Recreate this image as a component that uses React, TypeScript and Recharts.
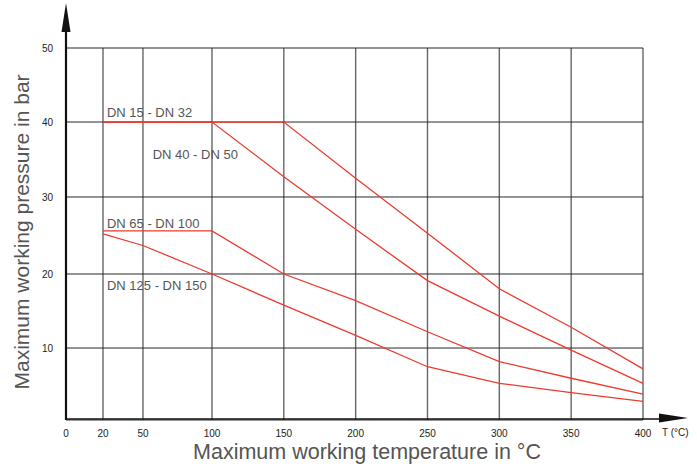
import { LineChart, Line, XAxis, YAxis, CartesianGrid, ReferenceDot } from "recharts";

// Pressure / temperature rating of the valve series.

const temps = [20, 50, 100, 150, 200, 250, 300, 350, 400];
const dn15to32 = [40, 40, 40, 40, 32.5, 25.3, 18, 12.8, 7.1];
const dn40to50 = [40, 40, 40, 32.7, 25.8, 19.1, 14.3, 9.7, 5.1];
const dn65to100 = [25.6, 25.6, 25.6, 20, 16.4, 12.2, 8.1, 5.8, 3.6];
const dn125to150 = [25.2, 23.7, 20, 15.8, 11.7, 7.4, 5.1, 3.8, 2.6];

const xTicks = [0, 20, 50, 100, 150, 200, 250, 300, 350, 400];
const yTicks = [10, 20, 30, 40, 50];

const seriesKeys = ["dn15", "dn40", "dn65", "dn125"];
const seriesNames = ["DN 15 - DN 32", "DN 40 - DN 50", "DN 65 - DN 100", "DN 125 - DN 150"];
// where each name sits, in chart units (temperature, bar)
const nameAtT = [23, 57, 23, 23];
const nameAtBar = [40.7, 35.1, 26, 17.8];

const data = temps.map((t, i) => ({
  t,
  dn15: dn15to32[i],
  dn40: dn40to50[i],
  dn65: dn65to100[i],
  dn125: dn125to150[i],
}));

const W = 697;
const H = 470;
const LEFT = 66;
const TOP = 48;
const RIGHT = 643;
const BOTTOM = 420;
const Y_AXIS_W = 40;
const X_AXIS_H = 30;

const RED = "#ec3a2f";
const TEXT = "#555";
const SANS = "'Liberation Sans', Arial, sans-serif";
const NARROW = "'Liberation Sans Narrow', 'Arial Narrow', 'Liberation Sans', sans-serif";

// The drawing's axes are not quite even, so each axis is calibrated on its
// own gridlines: knot values and where they fall along the axis (0..1).
const tempKnots = [0, 20, 50, 100, 400];
const tempKnotFrac = [0, 0.0641, 0.1334, 0.253, 1];
const barKnots = [0, 10, 20, 30, 40, 50];
const barKnotFrac = [0, 0.1935, 0.3925, 0.5995, 0.801, 1];

function makeKnotScale(knots: number[], fracs: number[], dom: number[] = [0, 1], rng: number[] = [0, 1]): any {
  const toFrac = (v: number) => {
    let i = 0;
    while (i < knots.length - 2 && v > knots[i + 1]) i++;
    const k = (v - knots[i]) / (knots[i + 1] - knots[i]);
    return fracs[i] + k * (fracs[i + 1] - fracs[i]);
  };
  const scale: any = (v: number) => rng[0] + toFrac(Number(v)) * (rng[1] - rng[0]);
  scale.domain = (d?: any[]) => {
    if (d === undefined) return dom.slice();
    dom = d.map(Number);
    return scale;
  };
  scale.range = (r?: any[]) => {
    if (r === undefined) return rng.slice();
    rng = r.map(Number);
    return scale;
  };
  scale.copy = () => makeKnotScale(knots, fracs, dom.slice(), rng.slice());
  scale.ticks = () => knots.slice();
  return scale;
}

const tempScale = makeKnotScale(tempKnots, tempKnotFrac, [0, 400]);
const barScale = makeKnotScale(barKnots, barKnotFrac, [0, 50]);

function Overlay() {
  const axisY = 419;
  return (
    <svg
      width={W}
      height={H}
      style={{ position: "absolute", left: 0, top: 0, pointerEvents: "none" }}
    >
      {/* axes with arrow heads */}
      <line x1={LEFT} y1={axisY + 1} x2={LEFT} y2={30} stroke="#111" strokeWidth={2.2} />
      <polygon points={`${LEFT},3 ${LEFT - 4.5},32 ${LEFT + 4.5},32`} fill="#111" />
      <line x1={LEFT} y1={axisY} x2={662} y2={axisY} stroke="#111" strokeWidth={1.6} />
      <polygon points={`688,${axisY - 1} 659,${axisY - 5.5} 659,${axisY + 3.5}`} fill="#111" />

      <text x={662} y={436} fontFamily={NARROW} fontSize={10} fill="#222">
        T (°C)
      </text>

      <text
        x={367}
        y={459}
        textAnchor="middle"
        fontFamily={SANS}
        fontSize={21.5}
        fill={TEXT}
      >
        Maximum working temperature in °C
      </text>
      <text
        x={29}
        y={232}
        textAnchor="middle"
        transform="rotate(-90 29 232)"
        fontFamily={SANS}
        fontSize={21}
        fill={TEXT}
      >
        Maximum working pressure in bar
      </text>
    </svg>
  );
}

export default function App() {
  return (
    <div style={{ position: "absolute", left: 0, top: 0, width: W, height: H, background: "#fff" }}>
      <LineChart
        width={W}
        height={H}
        data={data}
        margin={{
          top: TOP,
          right: W - RIGHT,
          left: LEFT - Y_AXIS_W,
          bottom: H - BOTTOM - X_AXIS_H,
        }}
      >
        <CartesianGrid horizontal={false} stroke="#666" strokeWidth={1.4} />
        <CartesianGrid vertical={false} stroke="#2a2a2a" strokeWidth={1} />
        <XAxis
          dataKey="t"
          type="number"
          scale={tempScale}
          domain={[0, 400]}
          ticks={xTicks}
          interval={0}
          height={X_AXIS_H}
          axisLine={false}
          tickLine={false}
          tickMargin={4}
          tick={{ fontFamily: NARROW, fontSize: 10, fill: "#222" }}
        />
        <YAxis
          type="number"
          scale={barScale}
          domain={[0, 50]}
          ticks={yTicks}
          interval={0}
          width={Y_AXIS_W}
          axisLine={false}
          tickLine={false}
          tickMargin={7}
          tick={{ fontFamily: NARROW, fontSize: 10, fill: "#222" }}
        />
        {seriesKeys.map((k) => (
          <Line
            key={k}
            type="linear"
            dataKey={k}
            stroke={RED}
            strokeWidth={1.3}
            dot={false}
            activeDot={false}
            isAnimationActive={false}
          />
        ))}
        {seriesNames.map((name, i) => (
          <ReferenceDot
            key={name}
            x={nameAtT[i]}
            y={nameAtBar[i]}
            r={0}
            ifOverflow="visible"
            shape={(p: any) => (
              <text x={p.cx} y={p.cy} fontFamily={SANS} fontSize={13} fill={TEXT}>
                {name}
              </text>
            )}
          />
        ))}
      </LineChart>
      <Overlay />
    </div>
  );
}
